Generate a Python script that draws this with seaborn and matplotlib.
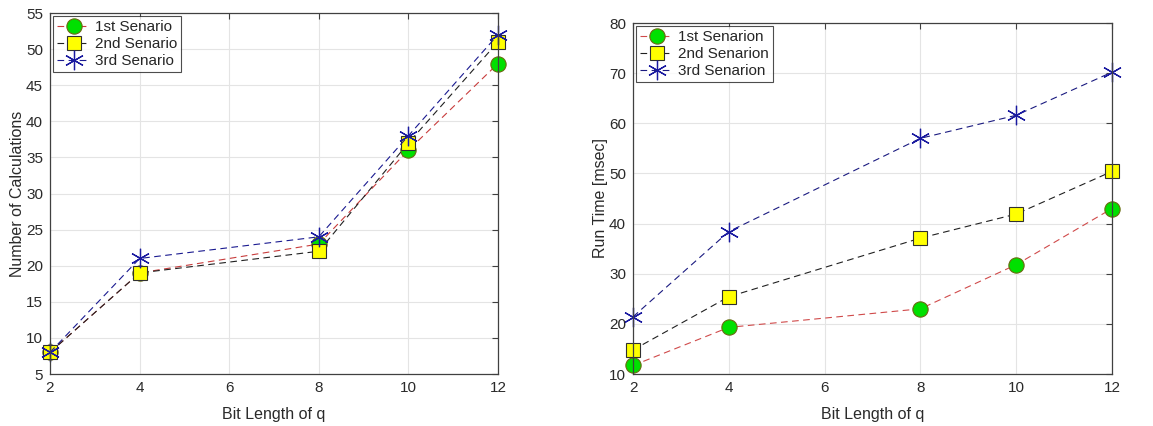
import numpy as np
import pandas as pd
import matplotlib
matplotlib.use("Agg")
import matplotlib.pyplot as plt
import seaborn as sns

# ---- data ----
bits = [2, 4, 8, 10, 12]
calc_s1 = [8, 19, 23, 36, 48]
calc_s2 = [8, 19, 22, 37, 51]
calc_s3 = [8, 21, 24, 38, 52]
time_s1 = [11.7, 19.3, 23.0, 31.8, 43.0]
time_s2 = [14.8, 25.4, 37.1, 41.9, 50.4]
time_s3 = [21.4, 38.4, 57.0, 61.6, 70.2]
left_labels = ["1st Senario", "2nd Senario", "3rd Senario"]
right_labels = ["1st Senarion", "2nd Senarion", "3rd Senarion"]

sns.set_theme(style="white")
plt.rcParams['font.family'] = ['Liberation Sans', 'DejaVu Sans']

fig = plt.figure(figsize=(11.53, 4.26), dpi=100)
axL = fig.add_axes([50/1153, 1-374/426, (498-50)/1153, (374-13)/426])
axR = fig.add_axes([633/1153, 1-374/426, (1112-633)/1153, (374-23)/426])

asterisk = (6, 2, 0)
styles = [
    dict(marker='o', markersize=11, markerfacecolor='#00e000', markeredgecolor='#6a6a10', mew=0.8),
    dict(marker='s', markersize=10, markerfacecolor='#ffff00', markeredgecolor='#303030', mew=0.8),
    dict(marker=asterisk, markersize=14, markeredgecolor='#1a1aa0', mew=0.9),
]

def draw(ax, ys, labels, colors):
    for y, lab, col, st in zip(ys, labels, colors, styles):
        df = pd.DataFrame({'x': bits, 'y': y})
        sns.lineplot(data=df, x='x', y='y', ax=ax, color=col, linestyle=(0, (6, 4)),
                     linewidth=0.8, label=lab, **st)

draw(axL, [calc_s1, calc_s2, calc_s3], left_labels, ['#c83c3c', '#202020', '#1a1a90'])
draw(axR, [time_s1, time_s2, time_s3], right_labels, ['#d04a4a', '#202020', '#1a1a80'])

for ax in (axL, axR):
    ax.set_xlim(2, 12)
    ax.set_xticks([2, 4, 6, 8, 10, 12])
    ax.grid(True, color='#e4e4e4', linewidth=0.8)
    ax.set_axisbelow(True)
    for s in ax.spines.values():
        s.set_color('#404040')
        s.set_linewidth(0.9)
    ax.tick_params(direction='in', top=True, right=True, length=4, width=0.8,
                   color='#404040', labelsize=11, labelcolor='#2a2a2a', pad=5)
    ax.set_xlabel('Bit Length of q', fontsize=11.5, color='#2a2a2a', labelpad=9)
    leg = ax.legend(loc='upper left', numpoints=1, fancybox=False, frameon=True,
                    fontsize=11, borderaxespad=0.2, handlelength=2.2, handletextpad=0.3,
                    borderpad=0.25, labelspacing=0.2, edgecolor='#202020')
    leg.get_frame().set_linewidth(0.8)

axL.set_ylim(5, 55)
axL.set_yticks(range(5, 56, 5))
axL.set_ylabel('Number of Calculations', fontsize=11.5, color='#2a2a2a', labelpad=1)
axR.set_ylim(10, 80)
axR.set_yticks(range(10, 81, 10))
axR.set_ylabel('Run Time [msec]', fontsize=11.5, color='#2a2a2a', labelpad=1)

for ax in (axL, axR):
    for l in ax.lines:
        l.set_clip_on(False)

fig.savefig('out.png', dpi=100)
